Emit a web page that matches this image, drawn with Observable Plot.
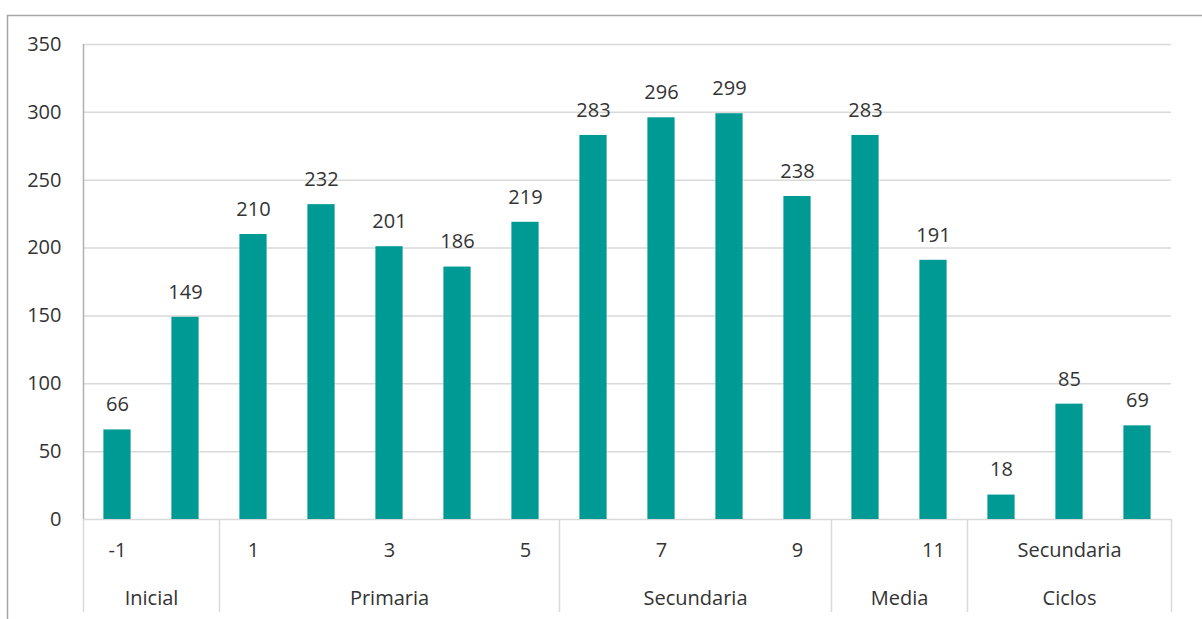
<!DOCTYPE html>
<html><head><meta charset="utf-8">
<script src="https://cdn.jsdelivr.net/npm/d3@7"></script>
<script src="https://cdn.jsdelivr.net/npm/@observablehq/plot@0.6"></script>
<style>body{margin:0;background:#fff} svg{display:block}</style>
</head><body><div id="chart"></div>
<script>
const values = [66,149,210,232,201,186,219,283,296,299,238,283,191,18,85,69];
const subLabels = ["-1","0","1","2","3","4","5","6","7","8","9","10","11","","Secundaria",""];
const levels = ["Inicial","Inicial","Primaria","Primaria","Primaria","Primaria","Primaria","Secundaria","Secundaria","Secundaria","Secundaria","Media","Media","Ciclos","Ciclos","Ciclos"];
const yTicks = [0,50,100,150,200,250,300,350];

const rows = values.map((v,i)=>({i, v, sub: subLabels[i], level: levels[i]}));
const groups = [];
rows.forEach(r=>{
  const g = groups[groups.length-1];
  if (g && g.level===r.level) g.end = r.i; else groups.push({level:r.level,start:r.i,end:r.i});
});
groups.forEach(g=>g.mid=(g.start+g.end)/2);
const bounds = groups.map(g=>g.start-0.5).concat([groups[groups.length-1].end+0.5]);

const txt = "#333333";
const chart = Plot.plot({
  width:1202, height:619,
  marginLeft:83, marginRight:31, marginTop:44, marginBottom:100,
  style:{fontFamily:"'Open Sans', sans-serif", fontSize:"20px", color:txt, background:"#fff"},
  x:{type:"linear", domain:[-0.5, values.length-0.5], axis:null},
  y:{domain:[0,350], axis:null},
  marks:[
    Plot.frame({stroke:"#a6a6a6", strokeWidth:1.5, insetLeft:-76, insetTop:-29, insetRight:-80, insetBottom:-140}),
    Plot.ruleY(yTicks,{stroke:"#d9d9d9", strokeWidth:1.5}),
    Plot.ruleX(bounds,{stroke:"#d9d9d9", strokeWidth:1.5, insetTop:475, insetBottom:-93}),
    Plot.ruleX([-0.5],{y1:0,y2:350, stroke:"#b0b0b0", strokeWidth:1.5}),
    Plot.rectY(rows,{x1:d=>d.i-0.2, x2:d=>d.i+0.2, y1:0, y2:"v", fill:"#009A94"}),
    Plot.text(rows,{x:"i", y:"v", text:d=>String(d.v), dy:-25, fill:txt}),
    Plot.text(rows.filter(d=>d.i%2===0),{x:"i", text:"sub", frameAnchor:"bottom", lineAnchor:"middle", dy:31, fill:txt}),
    Plot.text(groups,{x:"mid", text:"level", frameAnchor:"bottom", lineAnchor:"middle", dy:79, fill:txt}),
    Plot.text(yTicks,{y:d=>d, text:d=>String(d), frameAnchor:"left", textAnchor:"end", dx:-22, fill:txt})
  ]
});
document.getElementById("chart").append(chart);
</script></body></html>
